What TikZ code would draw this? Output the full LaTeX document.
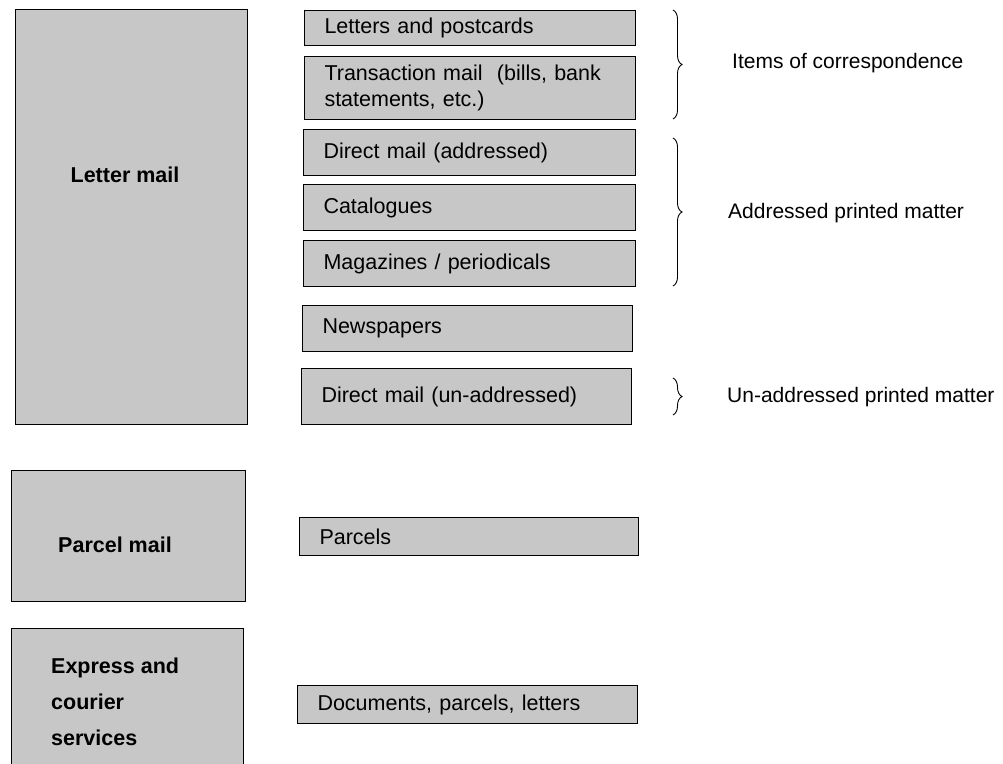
\documentclass[tikz,border=0pt]{standalone}
\usepackage{fontspec}
\setmainfont{Liberation Sans}
\usepackage{tikz}
\usetikzlibrary{positioning,decorations.pathreplacing}

\begin{document}
\begin{tikzpicture}
		[
		x = 1pt, y = -1pt,
		mailbox/.style  = {draw, line width=1pt, fill=black!22, anchor=north west, inner sep=0pt},
		itembox/.style  = {mailbox, align=left, inner xsep=20pt,
		                   font=\fontsize{21.5}{26}\selectfont},
		mailtext/.style = {font=\fontsize{21.5}{36}\selectfont\bfseries, inner sep=0pt, align=left},
		grouptext/.style= {font=\fontsize{21}{26}\selectfont, anchor=west, inner sep=0pt},
		groupbrace/.style = {decorate, decoration={brace, amplitude=9pt}, line width=0.9pt}
		]
		\path[use as bounding box, clip] (0,0) rectangle (1003,763);
		% mail classes
		\node [mailbox, minimum width=232pt, minimum height=415pt] (letter)  at (15,9)   {};
		\node [mailbox, minimum width=234pt, minimum height=131pt] (parcel)  at (11,470) {};
		\node [mailbox, minimum width=232pt, minimum height=150pt] (express) at (11,628) {};
		\node [mailtext] (lettertxt)  at (125,175) {Letter mail};
		\node [mailtext] (parceltxt)  at (115,545) {Parcel mail};
		\node [mailtext, anchor=west] (expresstxt) at (51,702) {Express and\\courier\\services};
		% items
		\node [itembox, text width=291pt, minimum height=35pt] (letters)  at (304,10)  {Letters and postcards};
		\node [itembox, text width=291pt, minimum height=63pt] (trans)    at (304,56)  {Transaction mail~ (bills, bank\\statements, etc.)};
		\node [itembox, text width=292pt, minimum height=46pt] (dmaddr)   at (303,129) {Direct mail (addressed)};
		\node [itembox, text width=292pt, minimum height=46pt] (catal)    at (303,184) {Catalogues};
		\node [itembox, text width=292pt, minimum height=46pt] (magaz)    at (303,240) {Magazines / periodicals};
		\node [itembox, text width=290pt, minimum height=46pt] (newsp)    at (302,305) {Newspapers};
		\node [itembox, text width=290pt, minimum height=56pt] (dmunaddr) at (301,368) {Direct mail (un-addressed)};
		\node [itembox, text width=299pt, minimum height=38pt] (parcels)  at (299,517) {Parcels};
		\node [itembox, text width=300pt, minimum height=38pt] (docs)     at (297,685) {Documents, parcels, letters};
		% groups
		\coordinate (b1top) at (673,10);  \coordinate (b1bot) at (673,119);
		\coordinate (b2top) at (673,138); \coordinate (b2bot) at (673,286);
		\coordinate (b3top) at (673,378); \coordinate (b3bot) at (673,415);
		\draw [groupbrace] (b1top) -- (b1bot);
		\draw [groupbrace] (b2top) -- (b2bot);
		\draw [groupbrace] (b3top) -- (b3bot);
		\node [grouptext] (corresp)   at (732,63)  {Items of correspondence};
		\node [grouptext] (addrpm)    at (728,213) {Addressed printed matter};
		\node [grouptext] (unaddrpm)  at (727,397) {Un-addressed printed matter};
\end{tikzpicture}
\end{document}
